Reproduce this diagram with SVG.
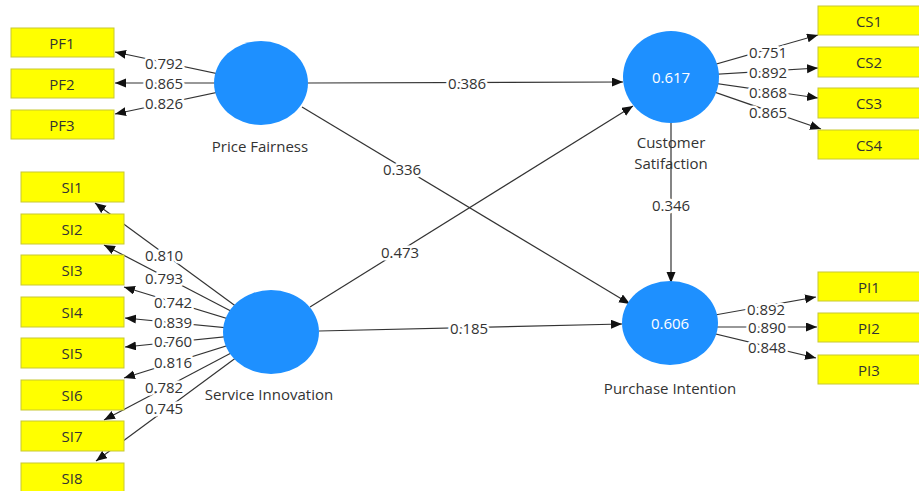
<svg xmlns="http://www.w3.org/2000/svg" width="919" height="491" viewBox="0 0 919 491">
<style>
.ln{stroke:#333;stroke-width:1.2;fill:none}
.lb{font-family:"Open Sans","Noto Sans",sans-serif;font-size:15px;fill:#333;text-anchor:middle;dominant-baseline:central;stroke:#fff;stroke-width:5;paint-order:stroke;stroke-linejoin:round}
.box{fill:#ffff00;stroke:#c8c832;stroke-width:1}
.bt{font-family:"Open Sans","Noto Sans",sans-serif;font-size:15px;fill:#333;text-anchor:middle;dominant-baseline:central}
.lv{fill:#1e90ff}
.lt{font-family:"Open Sans","Noto Sans",sans-serif;font-size:15px;fill:#333;text-anchor:middle}
.in{font-family:"Open Sans","Noto Sans",sans-serif;font-size:15px;fill:#fff;text-anchor:middle;dominant-baseline:central}
</style>
<defs>
<marker id="ah" markerUnits="userSpaceOnUse" markerWidth="12" markerHeight="10" refX="11" refY="4.5" orient="auto">
<path d="M0,0 L11,4.5 L0,9 z" fill="#111"/>
</marker>
</defs>
<rect width="919" height="491" fill="#fff"/>
<g id="connectors">
<line class="ln" x1="261" y1="83" x2="115" y2="52" marker-end="url(#ah)"/>
<line class="ln" x1="261" y1="83" x2="115" y2="83" marker-end="url(#ah)"/>
<line class="ln" x1="261" y1="83" x2="115" y2="114" marker-end="url(#ah)"/>
<line class="ln" x1="271" y1="332" x2="95" y2="203" marker-end="url(#ah)"/>
<line class="ln" x1="271" y1="332" x2="104" y2="245" marker-end="url(#ah)"/>
<line class="ln" x1="271" y1="332" x2="124" y2="287" marker-end="url(#ah)"/>
<line class="ln" x1="271" y1="332" x2="125" y2="318" marker-end="url(#ah)"/>
<line class="ln" x1="271" y1="332" x2="125" y2="347" marker-end="url(#ah)"/>
<line class="ln" x1="271" y1="332" x2="124" y2="378" marker-end="url(#ah)"/>
<line class="ln" x1="271" y1="332" x2="104" y2="420" marker-end="url(#ah)"/>
<line class="ln" x1="271" y1="332" x2="96" y2="461" marker-end="url(#ah)"/>
<line class="ln" x1="671" y1="77" x2="818" y2="35" marker-end="url(#ah)"/>
<line class="ln" x1="671" y1="77" x2="818" y2="68" marker-end="url(#ah)"/>
<line class="ln" x1="671" y1="77" x2="818" y2="98" marker-end="url(#ah)"/>
<line class="ln" x1="671" y1="77" x2="821" y2="129" marker-end="url(#ah)"/>
<line class="ln" x1="670" y1="323" x2="816" y2="297" marker-end="url(#ah)"/>
<line class="ln" x1="670" y1="327" x2="817" y2="327" marker-end="url(#ah)"/>
<line class="ln" x1="670" y1="323" x2="816" y2="358" marker-end="url(#ah)"/>
<line class="ln" x1="308" y1="83" x2="623" y2="82" marker-end="url(#ah)"/>
<line class="ln" x1="302" y1="107" x2="630" y2="304" marker-end="url(#ah)"/>
<line class="ln" x1="310" y1="307" x2="633" y2="106" marker-end="url(#ah)"/>
<line class="ln" x1="319" y1="331" x2="622" y2="324" marker-end="url(#ah)"/>
<line class="ln" x1="671" y1="122" x2="671" y2="283" marker-end="url(#ah)"/>
<text class="lb" x="164" y="63">0.792</text>
<text class="lb" x="164" y="83">0.865</text>
<text class="lb" x="164" y="103">0.826</text>
<text class="lb" x="164" y="255">0.810</text>
<text class="lb" x="164" y="278">0.793</text>
<text class="lb" x="173" y="302">0.742</text>
<text class="lb" x="173" y="322">0.839</text>
<text class="lb" x="173" y="341">0.760</text>
<text class="lb" x="173" y="362">0.816</text>
<text class="lb" x="164" y="387">0.782</text>
<text class="lb" x="164" y="408">0.745</text>
<text class="lb" x="768" y="52">0.751</text>
<text class="lb" x="768" y="72">0.892</text>
<text class="lb" x="768" y="92">0.868</text>
<text class="lb" x="768" y="112">0.865</text>
<text class="lb" x="766" y="309">0.892</text>
<text class="lb" x="767" y="327">0.890</text>
<text class="lb" x="767" y="347">0.848</text>
<text class="lb" x="467" y="83">0.386</text>
<text class="lb" x="402" y="169">0.336</text>
<text class="lb" x="400" y="252">0.473</text>
<text class="lb" x="469" y="328">0.185</text>
<text class="lb" x="671" y="205">0.346</text>
</g>
<g id="PF1"><rect class="box" x="11" y="28" width="103" height="29"/><text class="bt" x="62" y="43">PF1</text></g>
<g id="PF2"><rect class="box" x="11" y="69" width="103" height="29"/><text class="bt" x="62" y="84">PF2</text></g>
<g id="PF3"><rect class="box" x="11" y="110" width="103" height="29"/><text class="bt" x="62" y="125">PF3</text></g>
<g id="SI1"><rect class="box" x="21" y="172" width="103" height="30"/><text class="bt" x="72" y="187">SI1</text></g>
<g id="SI2"><rect class="box" x="21" y="214" width="103" height="30"/><text class="bt" x="72" y="229">SI2</text></g>
<g id="SI3"><rect class="box" x="21" y="255" width="103" height="30"/><text class="bt" x="72" y="270">SI3</text></g>
<g id="SI4"><rect class="box" x="21" y="297" width="103" height="30"/><text class="bt" x="72" y="312">SI4</text></g>
<g id="SI5"><rect class="box" x="21" y="338" width="103" height="30"/><text class="bt" x="72" y="353">SI5</text></g>
<g id="SI6"><rect class="box" x="21" y="380" width="103" height="30"/><text class="bt" x="72" y="395">SI6</text></g>
<g id="SI7"><rect class="box" x="21" y="421" width="103" height="30"/><text class="bt" x="72" y="436">SI7</text></g>
<g id="SI8"><rect class="box" x="21" y="463" width="103" height="30"/><text class="bt" x="72" y="478">SI8</text></g>
<g id="CS1"><rect class="box" x="818" y="6" width="103" height="29"/><text class="bt" x="869" y="21">CS1</text></g>
<g id="CS2"><rect class="box" x="818" y="47" width="103" height="30"/><text class="bt" x="869" y="62">CS2</text></g>
<g id="CS3"><rect class="box" x="818" y="88" width="103" height="30"/><text class="bt" x="869" y="103">CS3</text></g>
<g id="CS4"><rect class="box" x="818" y="130" width="103" height="29"/><text class="bt" x="869" y="145">CS4</text></g>
<g id="PI1"><rect class="box" x="818" y="272" width="103" height="29"/><text class="bt" x="869" y="287">PI1</text></g>
<g id="PI2"><rect class="box" x="818" y="313" width="103" height="29"/><text class="bt" x="869" y="328">PI2</text></g>
<g id="PI3"><rect class="box" x="818" y="355" width="103" height="29"/><text class="bt" x="869" y="370">PI3</text></g>
<g id="PriceFairness"><ellipse class="lv" cx="261" cy="83" rx="47" ry="42"/><text class="lt" x="260" y="152">Price Fairness</text></g>
<g id="ServiceInnovation"><ellipse class="lv" cx="271" cy="332" rx="48" ry="42"/><text class="lt" x="269" y="400">Service Innovation</text></g>
<g id="CustomerSatisfaction"><ellipse class="lv" cx="671" cy="77" rx="48" ry="46"/><text class="in" x="671" y="77">0.617</text><text class="lt" x="671" y="148">Customer<tspan x="671" dy="21">Satifaction</tspan></text></g>
<g id="PurchaseIntention"><ellipse class="lv" cx="670" cy="323" rx="48" ry="42"/><text class="in" x="670" y="323">0.606</text><text class="lt" x="670" y="394">Purchase Intention</text></g>
</svg>
